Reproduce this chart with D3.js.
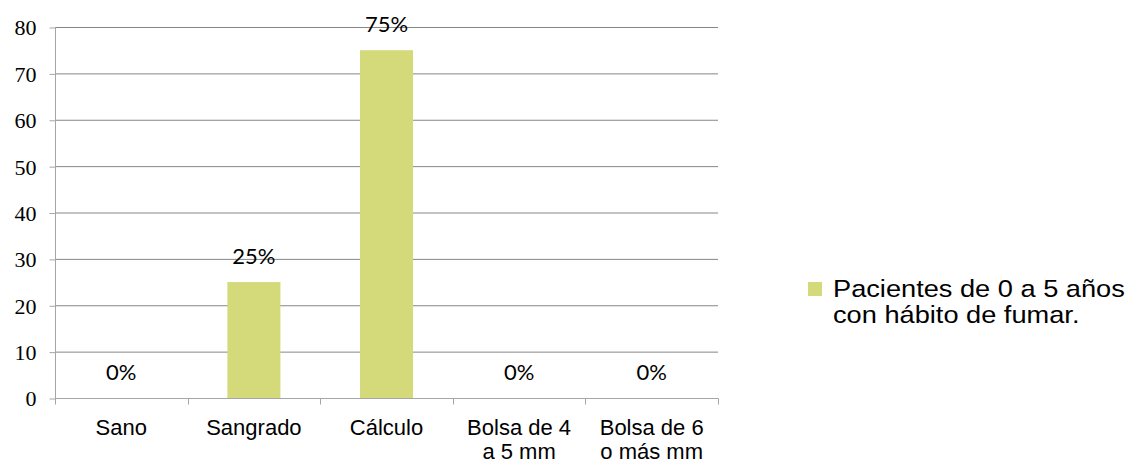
<!DOCTYPE html>
<html>
<head>
<meta charset="utf-8">
<script src="https://cdn.jsdelivr.net/npm/d3@7"></script>
<style>
  html, body { margin: 0; padding: 0; background: #fff; }
</style>
</head>
<body>
<svg id="chart" width="1133" height="464"></svg>
<script>
// Chart data
const categories = ["Sano", "Sangrado", "Cálculo", "Bolsa de 4\na 5 mm", "Bolsa de 6\no más mm"];
const values = [0, 25, 75, 0, 0];
const valueLabels = ["0%", "25%", "75%", "0%", "0%"];
const yTicks = [0, 10, 20, 30, 40, 50, 60, 70, 80];
const seriesName = ["Pacientes de 0 a 5 años", "con hábito de fumar."];

const svg = d3.select("#chart");
const plotLeft = 55, plotRight = 718, plotTop = 27, plotBottom = 398;

const x = d3.scaleBand().domain(d3.range(categories.length)).range([plotLeft, plotRight]).paddingInner(0).paddingOuter(0);
const y = d3.scaleLinear().domain([0, 80]).range([plotBottom, plotTop]);

const barColor = "#d4da7a";
const gridColor = "#868686";
const axisColor = "#a6a6a6";

// horizontal gridlines
svg.append("g").selectAll("line")
  .data(yTicks.filter(d => d > 0))
  .join("line")
  .attr("x1", plotLeft).attr("x2", plotRight)
  .attr("y1", d => y(d) + 0.5).attr("y2", d => y(d) + 0.5)
  .attr("stroke", gridColor).attr("stroke-width", 1);

// y axis
const yAxis = svg.append("g")
  .attr("transform", `translate(${plotLeft + 0.5},0.5)`)
  .call(d3.axisLeft(y).tickValues(yTicks).tickSize(6).tickPadding(13));
yAxis.select(".domain").attr("stroke", axisColor).attr("d", `M0,${plotTop}V${plotBottom}`);
yAxis.selectAll(".tick line").attr("stroke", axisColor);
yAxis.selectAll(".tick text")
  .attr("fill", "#000")
  .attr("dy", "0.34em")
  .style("font-family", "'Liberation Serif', 'Times New Roman', serif")
  .style("font-size", "22px");

// bars
const barW = 53;
svg.append("g").selectAll("rect")
  .data(values)
  .join("rect")
  .attr("x", (d, i) => x(i) + x.bandwidth() / 2 - barW / 2)
  .attr("width", barW)
  .attr("y", d => y(d))
  .attr("height", d => plotBottom - y(d))
  .attr("fill", barColor);

// x axis
const xAxis = svg.append("g")
  .attr("transform", `translate(0,${plotBottom + 0.5})`);
xAxis.append("line")
  .attr("x1", plotLeft).attr("x2", plotRight + 0.5)
  .attr("stroke", axisColor);
const tickXs = d3.range(categories.length + 1).map(i => plotLeft + i * x.bandwidth());
xAxis.selectAll(".tk")
  .data(tickXs)
  .join("line")
  .attr("class", "tk")
  .attr("x1", d => Math.round(d) + 0.5).attr("x2", d => Math.round(d) + 0.5)
  .attr("y1", 0).attr("y2", 6)
  .attr("stroke", axisColor);

// category labels
const catText = svg.append("g").selectAll("text")
  .data(categories)
  .join("text")
  .attr("x", (d, i) => x(i) + x.bandwidth() / 2)
  .attr("y", 435)
  .attr("text-anchor", "middle")
  .style("font-family", "'Liberation Sans', Arial, sans-serif")
  .style("font-size", "22px")
  .attr("fill", "#000");
catText.selectAll("tspan")
  .data(d => d.split("\n"))
  .join("tspan")
  .attr("x", function() { return d3.select(this.parentNode).attr("x"); })
  .attr("dy", (d, i) => i === 0 ? 0 : 24)
  .text(d => d);

// value labels
svg.append("g").selectAll("text")
  .data(values)
  .join("text")
  .attr("x", (d, i) => x(i) + x.bandwidth() / 2)
  .attr("y", d => y(d) - 18)
  .attr("text-anchor", "middle")
  .style("font-family", "Lato, 'Open Sans', sans-serif")
  .style("font-size", "22px")
  .attr("fill", "#000")
  .text((d, i) => valueLabels[i]);

// legend: swatch plus a two-line, slightly widened label
const lg = svg.append("g");
lg.append("rect")
  .attr("x", 808).attr("y", 282).attr("width", 14).attr("height", 14)
  .attr("fill", barColor);
const legendX = 833, legendWidth = 292;
const lgText = lg.append("g");
const lgLabel = lgText.append("text")
  .attr("x", 0).attr("y", 0)
  .style("font-family", "'Liberation Sans', Arial, sans-serif")
  .style("font-size", "24px")
  .attr("fill", "#000");
lgLabel.selectAll("tspan")
  .data(seriesName)
  .join("tspan")
  .attr("x", 0)
  .attr("dy", (d, i) => i === 0 ? 0 : 26)
  .text(d => d);
const firstW = lgLabel.select("tspan").node().getComputedTextLength();
const sx = firstW > 0 ? legendWidth / firstW : 1;
lgText.attr("transform", `translate(${legendX},297) scale(${sx},1)`);
</script>
</body>
</html>
